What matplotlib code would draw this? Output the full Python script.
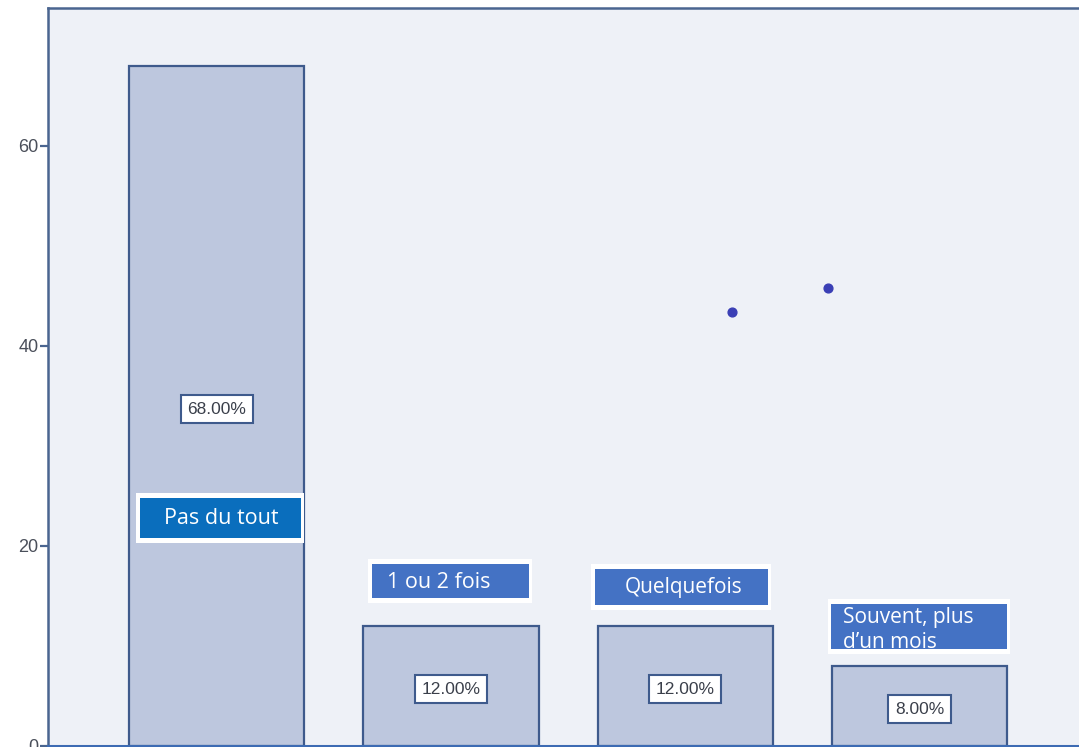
import matplotlib
matplotlib.use("Agg")
import matplotlib.pyplot as plt
from matplotlib.patches import Rectangle

categories = ["Pas du tout", "1 ou 2 fois", "Quelquefois", "Souvent, plus\nd\u2019un mois"]
values = [68.0, 12.0, 12.0, 8.0]
pct_labels = ["68.00%", "12.00%", "12.00%", "8.00%"]
stray_x = [2.20, 2.61]
stray_y = [43.4, 45.8]
yticks = [0, 20, 40, 60]

W, H = 1079, 747
fig = plt.figure(figsize=(W / 100, H / 100), dpi=100)
fig.patch.set_facecolor("white")

xlim = (-0.72, 3.72)
ax = fig.add_axes([48 / W, 1 / H, (xlim[1] - xlim[0]) * 234.3 / W, 738 / H])
ax.set_facecolor("#eef1f7")
ax.set_xlim(*xlim)
ax.set_ylim(0, 73.8)

x = list(range(len(values)))
ax.bar(x, values, width=0.747, color="#bdc7de", edgecolor="#3e5a8c", linewidth=1.6, zorder=2)

ax.scatter(stray_x, stray_y, s=40, color="#3a3fb5", zorder=3)

ax.set_yticks(yticks)
ax.set_yticklabels([str(t) for t in yticks], fontsize=13, color="#4a4f5a", family="Liberation Sans")
ax.set_xticks(x)
ax.set_xticklabels([])
ax.tick_params(axis="y", length=6, width=1.6, color="#4a6590", direction="out", pad=1)
ax.tick_params(axis="x", length=6, width=1.6, color="#3d6bb3", direction="out")

for side in ["left", "top", "right"]:
    ax.spines[side].set_color("#4a6590")
    ax.spines[side].set_linewidth(1.8)
ax.spines["bottom"].set_color("#3d6bb3")
ax.spines["bottom"].set_linewidth(2.2)

# percentage labels centered in bars
for xi, v, lab in zip(x, values, pct_labels):
    ax.text(xi, v / 2 - 0.3, lab, ha="center", va="center", fontsize=12.5,
            family="Liberation Sans", color="#3a3f4a", zorder=5,
            bbox=dict(boxstyle="square,pad=0.38", facecolor="white", edgecolor="#3e5a8c", linewidth=1.5))

# category label boxes (blue boxes with white text), placed relative to bars
box_specs = [
    # (dx_left, dx_right, y_bottom, y_top, color, text_dx, text_dy, fontsize, ha)
    (-0.329, 0.360, 20.8, 24.8, "#0a6ebd", 0.021, -0.1, 15.5, "center"),
    (-0.337, 0.333, 14.8, 18.2, "#4472c4", -0.275, -0.1, 15.5, "left"),
    (-0.386, 0.353, 14.1, 17.7, "#4472c4", -0.008, -0.1, 15.0, "center"),
    (-0.376, 0.371, 9.7, 14.2, "#4472c4", -0.325, -0.35, 15.0, "left"),
]
for xi, cat, (l, r, b, t, col, tdx, tdy, fs, ha) in zip(x, categories, box_specs):
    ax.add_patch(Rectangle((xi + l - 0.017, b - 0.5), (r - l) + 0.03, (t - b) + 1.0,
                           facecolor="white", edgecolor="none", zorder=4))
    ax.add_patch(Rectangle((xi + l, b), r - l, t - b, facecolor=col, edgecolor="none", zorder=4))
    ax.text(xi + tdx, (b + t) / 2 + tdy, cat, ha=ha, va="center", fontsize=fs, color="white",
            family="Open Sans", zorder=5, linespacing=1.25)

fig.savefig("out.png", dpi=100)
